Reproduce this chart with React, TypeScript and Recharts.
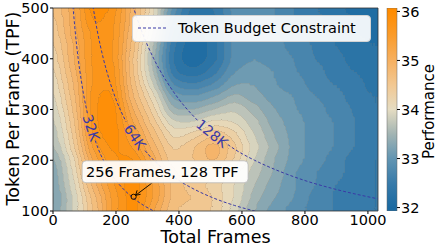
import React from 'react'
import {
  ComposedChart,
  Scatter,
  Line,
  Bar,
  XAxis,
  YAxis,
  ReferenceDot,
  ReferenceLine,
} from 'recharts'

// ── Data ─────────────────────────────────────────────────────────────────────

const FRAMES = [0, 64, 128, 192, 256, 320, 384, 448, 512, 576, 640, 704, 768, 832, 896, 960, 1024]
const TPF = [500, 475, 450, 425, 400, 375, 350, 325, 300, 275, 250, 225, 200, 175, 150, 125, 100]

// performance per TPF row, one value per FRAMES column
const PERF_500 = [34.6, 35.1, 36.2, 35.8, 34.9, 34.1, 32.9, 32.3, 32.4, 32.9, 33.0, 32.8, 32.6, 32.4, 32.3, 32.1, 32.0]
const PERF_475 = [34.5, 35.1, 35.9, 35.7, 34.9, 34.0, 32.7, 32.2, 32.3, 32.9, 33.0, 32.8, 32.6, 32.5, 32.3, 32.2, 32.1]
const PERF_450 = [34.4, 35.1, 35.7, 35.7, 34.8, 33.8, 32.5, 32.1, 32.3, 32.9, 33.0, 32.8, 32.7, 32.5, 32.4, 32.2, 32.1]
const PERF_425 = [34.3, 35.0, 35.7, 35.7, 34.7, 33.6, 32.4, 32.0, 32.3, 32.9, 33.0, 32.9, 32.7, 32.6, 32.4, 32.3, 32.2]
const PERF_400 = [34.2, 35.0, 35.7, 35.7, 34.6, 33.5, 32.3, 32.0, 32.3, 32.9, 33.0, 32.9, 32.8, 32.6, 32.5, 32.3, 32.2]
const PERF_375 = [34.1, 34.9, 35.7, 35.8, 34.6, 33.6, 32.4, 32.2, 32.5, 33.0, 33.1, 33.0, 32.8, 32.7, 32.5, 32.4, 32.3]
const PERF_350 = [34.0, 34.8, 35.7, 35.8, 34.7, 33.8, 32.7, 32.6, 32.8, 33.2, 33.2, 33.0, 32.9, 32.7, 32.6, 32.5, 32.3]
const PERF_325 = [33.9, 34.7, 35.8, 35.9, 34.8, 34.1, 33.1, 33.0, 33.2, 33.5, 33.3, 33.1, 33.0, 32.8, 32.7, 32.5, 32.4]
const PERF_300 = [33.8, 34.6, 35.8, 36.0, 35.0, 34.3, 33.4, 33.4, 33.6, 33.8, 33.5, 33.2, 33.0, 32.9, 32.7, 32.6, 32.4]
const PERF_275 = [33.7, 34.5, 35.8, 36.1, 35.2, 34.5, 33.8, 33.8, 34.1, 34.0, 33.7, 33.3, 33.1, 32.9, 32.8, 32.6, 32.5]
const PERF_250 = [33.6, 34.4, 35.7, 36.1, 35.4, 34.7, 34.1, 34.3, 34.6, 34.3, 33.8, 33.4, 33.1, 32.9, 32.8, 32.6, 32.5]
const PERF_225 = [33.5, 34.3, 35.5, 35.9, 35.6, 34.9, 34.3, 34.6, 35.0, 34.5, 33.9, 33.5, 33.1, 32.9, 32.8, 32.6, 32.5]
const PERF_200 = [33.3, 34.1, 35.3, 35.8, 35.9, 35.1, 34.4, 34.6, 34.9, 34.4, 33.8, 33.4, 33.1, 32.9, 32.7, 32.5, 32.4]
const PERF_175 = [33.2, 34.0, 35.1, 35.7, 36.2, 35.3, 34.6, 34.5, 34.5, 34.1, 33.7, 33.4, 33.0, 32.8, 32.7, 32.5, 32.4]
const PERF_150 = [33.2, 33.9, 34.9, 35.6, 36.2, 35.4, 34.7, 34.5, 34.3, 34.0, 33.6, 33.3, 33.0, 32.8, 32.6, 32.5, 32.4]
const PERF_125 = [33.1, 33.8, 34.7, 35.5, 36.2, 35.4, 34.7, 34.6, 34.4, 34.0, 33.5, 33.2, 33.0, 32.7, 32.6, 32.5, 32.4]
const PERF_100 = [33.2, 33.8, 34.6, 35.5, 36.0, 35.2, 34.6, 34.5, 34.4, 33.9, 33.4, 33.1, 32.9, 32.7, 32.6, 32.5, 32.4]

const PERF_ROWS = [
  PERF_500, PERF_475, PERF_450, PERF_425, PERF_400, PERF_375, PERF_350, PERF_325, PERF_300,
  PERF_275, PERF_250, PERF_225, PERF_200, PERF_175, PERF_150, PERF_125, PERF_100,
]

// token budget curves (frames x TPF = const), null = gap for the inline label
const BUDGET_32K = [
  { f: 60, t: 533 }, { f: 64, t: 500 }, { f: 70, t: 457 }, { f: 80, t: 400 }, { f: 90, t: 356 },
  { f: 100, t: 320 }, { f: 110, t: 291 }, { f: 121, t: null }, { f: 134, t: 239 }, { f: 144, t: 222 },
  { f: 160, t: 200 }, { f: 180, t: 178 }, { f: 200, t: 160 }, { f: 224, t: 143 }, { f: 256, t: 125 },
  { f: 288, t: 111 }, { f: 320, t: 100 }, { f: 336, t: 95 },
]
const BUDGET_64K = [
  { f: 120, t: 533 }, { f: 128, t: 500 }, { f: 140, t: 457 }, { f: 160, t: 400 }, { f: 180, t: 356 },
  { f: 200, t: 320 }, { f: 232, t: 276 }, { f: 260, t: null }, { f: 292, t: 219 }, { f: 320, t: 200 },
  { f: 360, t: 178 }, { f: 400, t: 160 }, { f: 448, t: 143 }, { f: 512, t: 125 }, { f: 576, t: 111 },
  { f: 640, t: 100 }, { f: 672, t: 95 },
]
const BUDGET_128K = [
  { f: 240, t: 533 }, { f: 256, t: 500 }, { f: 280, t: 457 }, { f: 320, t: 400 }, { f: 360, t: 356 },
  { f: 400, t: 320 }, { f: 460, t: 278 }, { f: 505, t: null }, { f: 555, t: 231 }, { f: 576, t: 222 },
  { f: 640, t: 200 }, { f: 720, t: 178 }, { f: 800, t: 160 }, { f: 896, t: 143 }, { f: 1024, t: 125 },
  { f: 1056, t: 121 },
]

const X_TICKS = [0, 200, 400, 600, 800, 1000]
const Y_TICKS = [100, 200, 300, 400, 500]
const CBAR_TICKS = [32, 33, 34, 35, 36]

const HIGHLIGHT = { f: 256, t: 128, text: '256 Frames, 128 TPF' }

// ── Helpers ──────────────────────────────────────────────────────────────────

const W = 439
const H = 250
const PLOT = { left: 53, top: 8, right: 378, bottom: 211 }
const CBAR = { left: 387, right: 397 }
const X_DOMAIN: [number, number] = [0, 1032]
const Y_DOMAIN: [number, number] = [100, 500]
const P_MIN = 32
const P_MAX = 36
const N_LEVELS = 20
const CBAR_DOMAIN: [number, number] = [31.93, 36.07]

const CELL_W = ((PLOT.right - PLOT.left) * 64) / (X_DOMAIN[1] - X_DOMAIN[0]) + 0.6
const CELL_H = ((PLOT.bottom - PLOT.top) * 25) / (Y_DOMAIN[1] - Y_DOMAIN[0]) + 0.6

const FONT = '"DejaVu Sans", Verdana, sans-serif'
const BUDGET_COLOR = '#3a3aa6'
const TICK = { fill: '#000', fontSize: 14.5 }

const STOPS: [number, number[]][] = [
  [32.0, [26, 106, 162]],
  [32.5, [56, 123, 170]],
  [33.0, [98, 149, 178]],
  [33.5, [162, 180, 179]],
  [34.0, [229, 220, 194]],
  [34.5, [242, 200, 146]],
  [35.0, [246, 176, 96]],
  [35.5, [250, 156, 44]],
  [36.0, [255, 140, 0]],
]

function perfRgb(v: number) {
  const c = Math.max(STOPS[0][0], Math.min(STOPS[STOPS.length - 1][0], v))
  for (let i = 0; i < STOPS.length - 1; i++) {
    const [a, ca] = STOPS[i]
    const [b, cb] = STOPS[i + 1]
    if (c <= b) {
      const k = (c - a) / (b - a)
      return ca.map((x, j) => x + (cb[j] - x) * k)
    }
  }
  return STOPS[STOPS.length - 1][1]
}
const perfColor = (v: number) => `rgb(${perfRgb(v).map(Math.round).join(',')})`

// contourf-like bands: value encoded as grey, blurred, then banded through these tables
const BAND_CENTERS = Array.from({ length: N_LEVELS }, (_, k) => P_MIN + ((k + 0.5) * (P_MAX - P_MIN)) / N_LEVELS)
const bandTable = (ch: number) => BAND_CENTERS.map((v) => (perfRgb(v)[ch] / 255).toFixed(4)).join(' ')
const LEVEL_TABLE = BAND_CENTERS.map((_, k) => (k / N_LEVELS).toFixed(4)).join(' ')

const heatData = TPF.flatMap((t, i) => FRAMES.map((f, j) => ({ f, t, p: PERF_ROWS[i][j] })))
const cbarData = [{ name: 'Performance', range: CBAR_DOMAIN }]

const CURVE_LABELS = [
  { f: 121, t: 264, text: '32K', angle: 72 },
  { f: 260, t: 246, text: '64K', angle: 56 },
  { f: 505, t: 253, text: '128K', angle: 39 },
]

function HeatCell(props: any) {
  const { cx, cy, payload } = props
  if (cx == null || cy == null) return null
  const g = Math.round(Math.max(0, Math.min(1, (payload.p - P_MIN) / (P_MAX - P_MIN))) * 255)
  return (
    <rect x={cx - CELL_W / 2} y={cy - CELL_H / 2} width={CELL_W} height={CELL_H} fill={`rgb(${g},${g},${g})`} />
  )
}

function Annotation(props: any) {
  const { cx, cy } = props
  if (cx == null || cy == null) return null
  return (
    <g>
      <circle cx={cx} cy={cy} r={2.6} fill="none" stroke="#000" strokeWidth={0.9} />
      <line x1={cx + 18} y1={cy - 13.5} x2={cx + 2} y2={cy - 1.5} stroke="#000" strokeWidth={0.9} />
      <polyline
        points={`${cx + 3.5},${cy - 6.5} ${cx + 2},${cy - 1.5} ${cx + 7},${cy - 2.5}`}
        fill="none"
        stroke="#000"
        strokeWidth={0.9}
      />
      <rect
        x={cx - 51.5}
        y={cy - 36}
        width={166}
        height={22}
        rx={4}
        fill="rgba(255,255,255,0.92)"
        stroke="#b8b8b8"
        strokeWidth={0.8}
      />
      <text x={cx - 47.5} y={cy - 20} fontSize={14.5} fill="#000">
        {HIGHLIGHT.text}
      </text>
    </g>
  )
}

// ── Component ────────────────────────────────────────────────────────────────

export default function App() {
  return (
    <div style={{ position: 'absolute', left: 0, top: 0, width: W, height: H, fontFamily: FONT, background: '#fff' }}>
      <style>{`.heat-layer { filter: url(#heatSmooth); }`}</style>
      <svg width={0} height={0} style={{ position: 'absolute' }}>
        <defs>
          <filter id="heatSmooth" x="-5%" y="-5%" width="110%" height="110%" colorInterpolationFilters="sRGB">
            <feGaussianBlur in="SourceGraphic" stdDeviation="8 5" edgeMode="duplicate" result="blur" />
            <feComponentTransfer in="blur" result="solid">
              <feFuncA type="linear" slope={3} intercept={0} />
            </feComponentTransfer>
            <feComponentTransfer in="solid" result="colored">
              <feFuncR type="discrete" tableValues={bandTable(0)} />
              <feFuncG type="discrete" tableValues={bandTable(1)} />
              <feFuncB type="discrete" tableValues={bandTable(2)} />
            </feComponentTransfer>
            <feComponentTransfer in="solid" result="levels">
              <feFuncR type="discrete" tableValues={LEVEL_TABLE} />
              <feFuncG type="discrete" tableValues={LEVEL_TABLE} />
              <feFuncB type="discrete" tableValues={LEVEL_TABLE} />
            </feComponentTransfer>
            <feConvolveMatrix
              in="levels"
              order="3"
              kernelMatrix="0 -1 0 -1 4 -1 0 -1 0"
              preserveAlpha="true"
              result="edges"
            />
            <feColorMatrix
              in="edges"
              type="matrix"
              values="0 0 0 0 0.4  0 0 0 0 0.4  0 0 0 0 0.4  2.2 0 0 0 0"
              result="lines"
            />
            <feMerge>
              <feMergeNode in="colored" />
              <feMergeNode in="lines" />
            </feMerge>
          </filter>
          <linearGradient id="cbarGrad" x1="0" y1="1" x2="0" y2="0">
            {STOPS.map(([v]) => (
              <stop
                key={v}
                offset={`${((v - CBAR_DOMAIN[0]) / (CBAR_DOMAIN[1] - CBAR_DOMAIN[0])) * 100}%`}
                stopColor={perfColor(v)}
              />
            ))}
          </linearGradient>
        </defs>
      </svg>

      {/* Main contour-like heat map */}
      <div style={{ position: 'absolute', left: 0, top: 0 }}>
        <ComposedChart
          width={W}
          height={H}
          margin={{ top: PLOT.top, right: W - PLOT.right, bottom: 0, left: 0 }}
        >
          <XAxis
            type="number"
            dataKey="f"
            domain={X_DOMAIN}
            ticks={X_TICKS}
            interval={0}
            allowDataOverflow
            height={H - PLOT.bottom}
            tick={TICK}
            tickSize={3}
            tickMargin={1}
            axisLine={{ stroke: '#333', strokeWidth: 0.8 }}
            tickLine={{ stroke: '#000' }}
            label={{
              content: (p: any) => {
                const vb = p.viewBox
                return (
                  <text x={vb.x + vb.width / 2} y={243} textAnchor="middle" fontSize={17.5} fill="#000">
                    Total Frames
                  </text>
                )
              },
            }}
          />
          <YAxis
            type="number"
            dataKey="t"
            domain={Y_DOMAIN}
            ticks={Y_TICKS}
            interval={0}
            allowDataOverflow
            width={PLOT.left}
            tick={TICK}
            tickSize={3}
            tickMargin={1}
            axisLine={{ stroke: '#333', strokeWidth: 0.8 }}
            tickLine={{ stroke: '#000' }}
            label={{
              content: (p: any) => {
                const vb = p.viewBox
                const cy = vb.y + vb.height / 2 - 1
                return (
                  <text x={19} y={cy} transform={`rotate(-90 19 ${cy})`} textAnchor="middle" fontSize={17.5} fill="#000">
                    Token Per Frame (TPF)
                  </text>
                )
              },
            }}
          />

          <Scatter
            data={heatData}
            className="heat-layer"
            shape={HeatCell}
            isAnimationActive={false}
            zIndex={-10}
          />

          <ReferenceLine x={X_DOMAIN[1]} stroke="#333" strokeWidth={0.8} />
          <ReferenceLine y={Y_DOMAIN[1]} stroke="#333" strokeWidth={0.8} />

          {[BUDGET_32K, BUDGET_64K, BUDGET_128K].map((d, i) => (
            <Line
              key={i}
              data={d}
              dataKey="t"
              type="monotone"
              stroke={BUDGET_COLOR}
              strokeWidth={1}
              strokeDasharray="3 2"
              dot={false}
              activeDot={false}
              connectNulls={false}
              isAnimationActive={false}
            />
          ))}

          {CURVE_LABELS.map((l) => (
            <ReferenceDot
              key={l.text}
              x={l.f}
              y={l.t}
              r={0}
              shape={(p: any) => (
                <text
                  x={p.cx}
                  y={p.cy}
                  transform={`rotate(${l.angle} ${p.cx} ${p.cy})`}
                  textAnchor="middle"
                  dominantBaseline="central"
                  fontSize={14}
                  fill={BUDGET_COLOR}
                >
                  {l.text}
                </text>
              )}
            />
          ))}

          <ReferenceDot x={HIGHLIGHT.f} y={HIGHLIGHT.t} r={3} shape={Annotation} />
        </ComposedChart>
      </div>

      {/* Colorbar */}
      <div style={{ position: 'absolute', left: 0, top: 0 }}>
        <ComposedChart
          width={W}
          height={H}
          data={cbarData}
          barCategoryGap={0}
          margin={{ top: PLOT.top, right: 0, bottom: H - PLOT.bottom, left: CBAR.left }}
        >
          <XAxis type="category" dataKey="name" hide />
          <YAxis
            orientation="right"
            type="number"
            domain={CBAR_DOMAIN}
            allowDataOverflow
            ticks={CBAR_TICKS}
            interval={0}
            width={W - CBAR.right}
            tick={TICK}
            tickSize={3}
            tickMargin={1}
            axisLine={false}
            tickLine={{ stroke: '#000' }}
            label={{
              content: (p: any) => {
                const vb = p.viewBox
                const cy = vb.y + vb.height / 2 + 2
                return (
                  <text x={434} y={cy} transform={`rotate(-90 434 ${cy})`} textAnchor="middle" fontSize={15} fill="#000">
                    Performance
                  </text>
                )
              },
            }}
          />
          <Bar
            dataKey="range"
            fill="url(#cbarGrad)"
            stroke="#666"
            strokeWidth={0.5}
            isAnimationActive={false}
          />
        </ComposedChart>
      </div>

      {/* Legend */}
      <div
        style={{
          position: 'absolute',
          left: 132,
          top: 15,
          width: 237,
          height: 25,
          background: 'rgba(255,255,255,0.92)',
          border: '1px solid #d4d4d4',
          borderRadius: 4,
          fontSize: 14.5,
          lineHeight: '25px',
          color: '#000',
        }}
      >
        <svg width={40} height={25} style={{ position: 'absolute', left: 0, top: 0 }}>
          <line x1={5} y1={12} x2={35} y2={12} stroke={BUDGET_COLOR} strokeWidth={1} strokeDasharray="3 2" />
        </svg>
        <span style={{ position: 'absolute', left: 45, top: 0, whiteSpace: 'nowrap' }}>Token Budget Constraint</span>
      </div>
    </div>
  )
}
